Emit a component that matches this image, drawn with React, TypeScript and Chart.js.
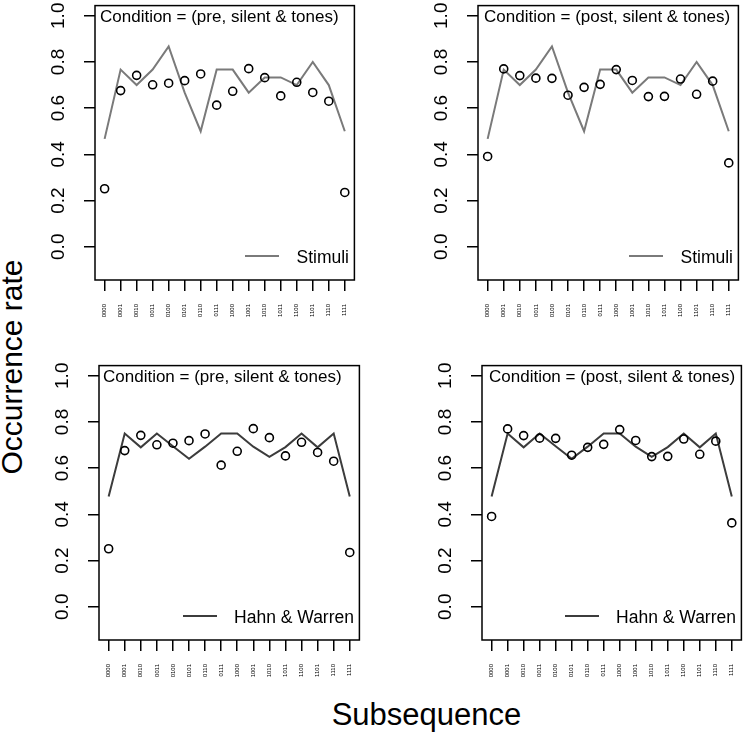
import React, { useEffect, useRef } from "react";
import { Chart, registerables } from "chart.js";

Chart.register(...registerables);

// ---------- data ----------
const subsequences = [
  "0000", "0001", "0010", "0011", "0100", "0101", "0110", "0111",
  "1000", "1001", "1010", "1011", "1100", "1101", "1110", "1111",
];
const yTickValues = [0, 0.2, 0.4, 0.6, 0.8, 1.0];
const preObserved = [0.251, 0.676, 0.742, 0.701, 0.708, 0.719, 0.748, 0.613, 0.673, 0.771, 0.732, 0.653, 0.712, 0.668, 0.630, 0.235];
const postObserved = [0.391, 0.770, 0.741, 0.730, 0.729, 0.656, 0.690, 0.703, 0.767, 0.720, 0.650, 0.651, 0.726, 0.660, 0.717, 0.363];
const stimuliRate = [0.467, 0.767, 0.700, 0.767, 0.867, 0.667, 0.500, 0.767, 0.767, 0.667, 0.733, 0.733, 0.700, 0.800, 0.700, 0.500];
const hahnWarrenRate = [0.477, 0.750, 0.690, 0.750, 0.695, 0.641, 0.693, 0.750, 0.750, 0.693, 0.649, 0.691, 0.750, 0.690, 0.750, 0.477];
const conditionPre = "Condition = (pre, silent & tones)";
const conditionPost = "Condition = (post, silent & tones)";
const stimuliName = "Stimuli";
const hahnWarrenName = "Hahn & Warren";
const yAxisTitle = "Occurrence rate";
const xAxisTitle = "Subsequence";

// ---------- layout / style ----------
const FONT = '"Liberation Sans", Arial, Helvetica, sans-serif';
const NARROW = '"Liberation Sans Narrow", "Liberation Sans", Arial, sans-serif';
const Y_AXIS_W = 65;
const X_AXIS_H = 45;
const PAD_TOP = 3;
const PAD_RIGHT = 2;
const Y_MIN = -0.144;
const Y_MAX = 1.044;
const X_MIN = 0.4;
const X_MAX = 16.6;

type Box = { l: number; t: number; r: number; b: number };

const boxPlugin = {
  id: "rbox",
  afterDraw(chart: any) {
    const { ctx, chartArea } = chart;
    const { left, top, right, bottom } = chartArea;
    ctx.save();
    ctx.strokeStyle = "#000";
    ctx.lineWidth = 1.5;
    ctx.strokeRect(left, top, right - left, bottom - top);
    ctx.restore();
  },
};

function Panel(props: {
  box: Box;
  observed: number[];
  model: number[];
  modelName: string;
  modelColor: string;
  condition: string;
  condInset: number;
}) {
  const { box, observed, model, modelName, modelColor, condition, condInset } = props;
  const ref = useRef<HTMLCanvasElement | null>(null);
  const canvasLeft = box.l - Y_AXIS_W;
  const canvasTop = box.t - PAD_TOP;
  const width = box.r - canvasLeft + PAD_RIGHT;
  const height = box.b - canvasTop + X_AXIS_H;

  useEffect(() => {
    if (!ref.current) return;
    const chart = new Chart(ref.current, {
      type: "line",
      data: {
        datasets: [
          {
            label: modelName,
            data: model.map((v, i) => ({ x: i + 1, y: v })),
            borderColor: modelColor,
            borderWidth: 2,
            pointRadius: 0,
            tension: 0,
            fill: false,
            order: 2,
          },
          {
            label: "observed",
            data: observed.map((v, i) => ({ x: i + 1, y: v })),
            showLine: false,
            pointRadius: 4,
            pointBorderWidth: 1.6,
            pointBorderColor: "#000",
            pointBackgroundColor: "rgba(0,0,0,0)",
            borderColor: "#000",
            backgroundColor: "rgba(0,0,0,0)",
            order: 1,
          },
        ],
      },
      options: {
        animation: false,
        responsive: false,
        devicePixelRatio: 1,
        events: [],
        layout: { padding: { top: PAD_TOP, right: PAD_RIGHT, left: 0, bottom: 0 } },
        plugins: { legend: { display: false }, tooltip: { enabled: false } },
        scales: {
          x: {
            type: "linear",
            position: "bottom",
            min: X_MIN,
            max: X_MAX,
            afterBuildTicks: (s: any) => {
              s.ticks = subsequences.map((_, i) => ({ value: i + 1 }));
            },
            afterFit: (s: any) => {
              s.height = X_AXIS_H;
              s.paddingLeft = 0;
              s.paddingRight = 0;
            },
            ticks: {
              autoSkip: false,
              minRotation: 90,
              maxRotation: 90,
              padding: 13,
              color: "#000",
              font: { family: FONT, size: 6 },
              callback: (v: any) => subsequences[Math.round(Number(v)) - 1] ?? "",
            },
            grid: {
              display: true,
              drawOnChartArea: false,
              drawTicks: true,
              tickLength: 11,
              color: "#000",
              lineWidth: 1.5,
            },
            border: { display: false },
          },
          y: {
            type: "linear",
            min: Y_MIN,
            max: Y_MAX,
            afterBuildTicks: (s: any) => {
              s.ticks = yTickValues.map((v) => ({ value: v }));
            },
            afterFit: (s: any) => {
              s.width = Y_AXIS_W;
              s.paddingTop = 0;
              s.paddingBottom = 0;
            },
            ticks: {
              minRotation: 90,
              maxRotation: 90,
              crossAlign: "center",
              padding: 11.7,
              color: "#000",
              font: { family: NARROW, size: 19 },
              callback: (v: any) => Number(v).toFixed(1),
            },
            grid: {
              display: true,
              drawOnChartArea: false,
              drawTicks: true,
              tickLength: 11,
              color: "#000",
              lineWidth: 1.5,
            },
            border: { display: false },
          },
        },
      } as any,
      plugins: [boxPlugin],
    });
    return () => chart.destroy();
  }, []);

  return (
    <>
      <canvas
        ref={ref}
        width={width}
        height={height}
        style={{ position: "absolute", left: canvasLeft, top: canvasTop, width, height }}
      />
      <div
        style={{
          position: "absolute",
          left: box.l + condInset,
          top: box.t + 5,
          fontFamily: FONT,
          fontSize: 17,
          lineHeight: "17px",
          whiteSpace: "nowrap",
          color: "#000",
        }}
      >
        {condition}
      </div>
      <div
        style={{
          position: "absolute",
          right: 750 - (box.r - 9),
          top: box.b - 33,
          display: "flex",
          alignItems: "center",
          gap: 17,
          fontFamily: FONT,
          fontSize: 17.5,
          lineHeight: "20px",
          whiteSpace: "nowrap",
          color: "#000",
        }}
      >
        <div style={{ width: 34, height: 2, background: modelColor, marginTop: -2 }} />
        <div>{modelName}</div>
      </div>
    </>
  );
}

export default function App() {
  return (
    <div
      style={{
        position: "absolute",
        left: 0,
        top: 0,
        width: 750,
        height: 733,
        background: "#fff",
        overflow: "hidden",
        fontFamily: FONT,
      }}
    >
      <Panel box={{ l: 95, t: 3, r: 358, b: 280 }} observed={preObserved} model={stimuliRate}
        modelName={stimuliName} modelColor="#7a7a7a" condition={conditionPre} condInset={5} />
      <Panel box={{ l: 478, t: 3, r: 742, b: 280 }} observed={postObserved} model={stimuliRate}
        modelName={stimuliName} modelColor="#7a7a7a" condition={conditionPost} condInset={6} />
      <Panel box={{ l: 99, t: 363, r: 363, b: 640 }} observed={preObserved} model={hahnWarrenRate}
        modelName={hahnWarrenName} modelColor="#3c3c3c" condition={conditionPre} condInset={4} />
      <Panel box={{ l: 482, t: 363, r: 745, b: 640 }} observed={postObserved} model={hahnWarrenRate}
        modelName={hahnWarrenName} modelColor="#3c3c3c" condition={conditionPost} condInset={7} />
      <div
        style={{
          position: "absolute",
          left: 11.5,
          top: 367,
          transform: "translate(-50%, -50%) rotate(-90deg)",
          fontFamily: FONT,
          fontSize: 30,
          lineHeight: "30px",
          whiteSpace: "nowrap",
          color: "#000",
        }}
      >
        {yAxisTitle}
      </div>
      <div
        style={{
          position: "absolute",
          left: 426.5,
          top: 699,
          transform: "translateX(-50%)",
          fontFamily: FONT,
          fontSize: 31,
          lineHeight: "31px",
          whiteSpace: "nowrap",
          color: "#000",
        }}
      >
        {xAxisTitle}
      </div>
    </div>
  );
}
